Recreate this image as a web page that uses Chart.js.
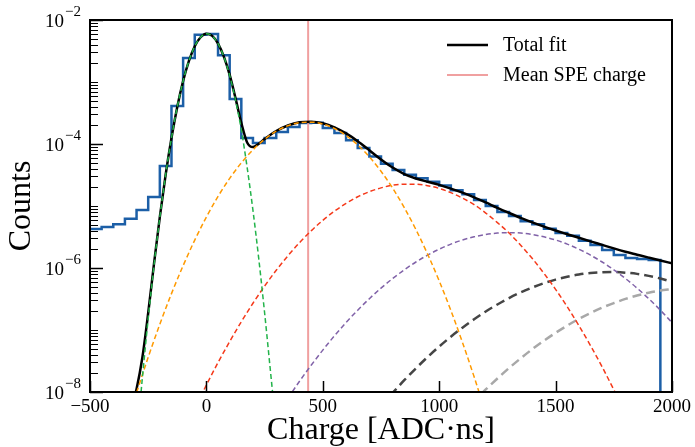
<!DOCTYPE html>
<html>
<head>
<meta charset="utf-8">
<script src="https://cdn.jsdelivr.net/npm/chart.js@4.4.0/dist/chart.umd.min.js"></script>
<style>
  html, body { margin: 0; padding: 0; background: #fff; }
  canvas { display: block; }
</style>
</head>
<body>
<canvas id="spe" width="695" height="447"></canvas>
<script>
// charge histogram, bin left edges (ADC*ns) and normalised counts
var histEdges = [-500, -450, -400, -350, -300, -250, -200, -150, -100, -50,
  0, 50, 100, 150, 200, 250, 300, 350, 400, 450,
  500, 550, 600, 650, 700, 750, 800, 850, 900, 950,
  1000, 1050, 1100, 1150, 1200, 1250, 1300, 1350, 1400, 1450,
  1500, 1550, 1600, 1650, 1700, 1750, 1800, 1850, 1900, 1950, 2000];
var histCounts = [4.25e-6, 4.6e-6, 5.1e-6, 6.2e-6, 8.6e-6, 1.4e-5, 4.4e-5, 4.1e-4, 2.44e-3, 5.8e-3,
  5.95e-3, 2.7e-3, 5.3e-4, 1.25e-4, 1.04e-4, 1.25e-4, 1.56e-4, 1.88e-4, 2.18e-4, 2.2e-4,
  1.81e-4, 1.5e-4, 1.15e-4, 8.6e-5, 6.3e-5, 4.8e-5, 3.8e-5, 3.2e-5, 2.8e-5, 2.45e-5,
  2.15e-5, 1.8e-5, 1.55e-5, 1.25e-5, 1.0e-5, 8.0e-6, 6.9e-6, 5.7e-6, 5.1e-6, 4.3e-6,
  3.67e-6, 3.3e-6, 2.75e-6, 2.35e-6, 1.95e-6, 1.62e-6, 1.45e-6, 1.4e-6, 1.35e-6, 0];

// total fit
var fitX = [-320, -310, -300, -275, -250, -225, -200, -175, -150, -125, -100, -75, -50, -25, 0, 25, 50, 75, 100, 125, 150, 175, 200, 225, 250,
  300, 350, 400, 450, 500, 550, 600, 650, 700, 750, 800, 850, 900, 950, 1000, 1050, 1100, 1150, 1200, 1250,
  1300, 1350, 1400, 1450, 1500, 1550, 1600, 1650, 1700, 1750, 1800, 1850, 1900, 1950, 2000];
var fitY = [5.8e-9, 8.0e-9, 1.12e-8, 3.6e-8, 1.88e-7, 1.18e-6, 6.7e-6, 3.21e-5, 1.25e-4, 4.0e-4, 1.04e-3, 2.19e-3, 3.77e-3, 5.27e-3, 5.99e-3, 5.54e-3, 4.17e-3, 2.57e-3, 1.3e-3, 5.5e-4, 2.19e-4, 1.06e-4, 8.93e-5, 1.01e-4, 1.2e-4,
  1.62e-4, 1.99e-4, 2.24e-4, 2.29e-4, 2.16e-4, 1.86e-4, 1.48e-4, 1.11e-4, 7.93e-5, 5.64e-5, 4.17e-5, 3.28e-5, 2.78e-5, 2.46e-5, 2.19e-5, 1.91e-5, 1.64e-5, 1.38e-5, 1.14e-5, 9.34e-6,
  7.73e-6, 6.43e-6, 5.43e-6, 4.64e-6, 4.02e-6, 3.51e-6, 3.07e-6, 2.69e-6, 2.36e-6, 2.07e-6, 1.83e-6, 1.64e-6, 1.47e-6, 1.32e-6, 1.19e-6];

// pedestal
var pedX = [-290, -275, -250, -225, -200, -175, -150, -125, -100, -75, -50, -25, 0, 25, 50, 75, 100, 125, 150, 175, 200, 225, 250, 275, 290];
var pedY = [4.1e-9, 1.7e-8, 1.52e-7, 1.11e-6, 6.6e-6, 3.19e-5, 1.25e-4, 4.0e-4, 1.04e-3, 2.19e-3, 3.77e-3, 5.27e-3, 5.98e-3, 5.53e-3, 4.16e-3, 2.55e-3, 1.27e-3, 5.1e-4, 1.69e-4, 4.2e-5, 8.5e-6, 1.4e-6, 1.9e-7, 2.2e-8, 6e-9];

// 1 PE
var pe1X = [-310, -300, -250, -200, -150, -100, -50, 0, 50, 100, 150, 200, 250, 300, 350, 400, 450, 500, 550, 600, 650, 700, 750, 800, 850, 900, 950, 1000, 1050, 1100, 1150, 1175];
var pe1Y = [7.4e-9, 9.7e-9, 3.64e-8, 1.24e-7, 3.86e-7, 1.09e-6, 2.82e-6, 6.65e-6, 1.43e-5, 2.79e-5, 4.96e-5, 8.05e-5, 1.19e-4, 1.61e-4, 1.97e-4, 2.21e-4, 2.25e-4, 2.10e-4, 1.78e-4, 1.37e-4, 9.7e-5, 6.2e-5, 3.63e-5, 1.94e-5, 9.4e-6, 4.16e-6, 1.68e-6, 6.2e-7, 2.07e-7, 6.3e-8, 1.76e-8, 8.95e-9];

// 2 PE
var pe2X = [-25, 0, 50, 100, 150, 200, 250, 300, 350, 400, 450, 500, 550, 600, 650, 700, 750, 800, 850, 900, 950, 1000, 1050, 1100, 1150, 1200, 1250, 1300, 1350, 1400, 1450, 1500, 1550, 1600, 1650, 1700, 1765];
var pe2Y = [8.4e-9, 1.30e-8, 2.99e-8, 6.5e-8, 1.36e-7, 2.70e-7, 5.1e-7, 9.2e-7, 1.57e-6, 2.56e-6, 3.97e-6, 5.87e-6, 8.24e-6, 1.10e-5, 1.41e-5, 1.70e-5, 1.96e-5, 2.16e-5, 2.25e-5, 2.24e-5, 2.13e-5, 1.92e-5, 1.64e-5, 1.34e-5, 1.05e-5, 7.7e-6, 5.4e-6, 3.66e-6, 2.33e-6, 1.42e-6, 8.2e-7, 4.52e-7, 2.37e-7, 1.18e-7, 5.6e-8, 2.54e-8, 8.4e-9];

// 3 PE
var pe3X = [350, 400, 450, 500, 550, 600, 650, 700, 750, 800, 850, 900, 950, 1000, 1050, 1100, 1150, 1200, 1250, 1300, 1350, 1400, 1450, 1500, 1550, 1600, 1650, 1700, 1750, 1800, 1850, 1900, 1950, 2000];
var pe3Y = [7.9e-9, 1.49e-8, 2.70e-8, 4.74e-8, 8.05e-8, 1.32e-7, 2.09e-7, 3.20e-7, 4.73e-7, 6.76e-7, 9.35e-7, 1.25e-6, 1.61e-6, 2.01e-6, 2.43e-6, 2.83e-6, 3.18e-6, 3.47e-6, 3.66e-6, 3.72e-6, 3.66e-6, 3.47e-6, 3.18e-6, 2.83e-6, 2.43e-6, 2.01e-6, 1.61e-6, 1.25e-6, 9.35e-7, 6.76e-7, 4.73e-7, 3.20e-7, 2.09e-7, 1.32e-7];

// 4 PE
var pe4X = [790, 850, 900, 950, 1000, 1050, 1100, 1150, 1200, 1250, 1300, 1350, 1400, 1450, 1500, 1550, 1600, 1650, 1700, 1750, 1800, 1850, 1900, 1950, 2000];
var pe4Y = [8.8e-9, 1.55e-8, 2.41e-8, 3.66e-8, 5.40e-8, 7.8e-8, 1.09e-7, 1.49e-7, 1.99e-7, 2.58e-7, 3.27e-7, 4.04e-7, 4.85e-7, 5.69e-7, 6.5e-7, 7.23e-7, 7.85e-7, 8.3e-7, 8.55e-7, 8.6e-7, 8.41e-7, 8.04e-7, 7.46e-7, 6.78e-7, 5.98e-7];

// 5 PE
var pe5X = [1180, 1200, 1250, 1300, 1350, 1400, 1450, 1500, 1550, 1600, 1650, 1700, 1750, 1800, 1850, 1900, 1950, 2000];
var pe5Y = [9.2e-9, 1.10e-8, 1.65e-8, 2.43e-8, 3.49e-8, 4.91e-8, 6.73e-8, 9.0e-8, 1.18e-7, 1.51e-7, 1.88e-7, 2.29e-7, 2.72e-7, 3.17e-7, 3.60e-7, 4.0e-7, 4.33e-7, 4.58e-7];

var meanSpeCharge = 437;

var xTicks = [-500, 0, 500, 1000, 1500, 2000];
var yMajor = [1e-8, 1e-6, 1e-4, 1e-2];
var yExp = ['\u22128', '\u22126', '\u22124', '\u22122'];

var FONT = '"Liberation Serif", "DejaVu Serif", serif';

function pts(xs, ys) {
	return xs.map(function(x, i){ return {x: x, y: ys[i]}; });
}

function histPoints() {
	var out = [];
	for (var i = 0; i < histCounts.length; i++) {
		out.push({x: histEdges[i], y: histCounts[i] > 0 ? histCounts[i] : 1e-12});
	}
	out.push({x: histEdges[histEdges.length - 1], y: out[out.length - 1].y});
	return out;
}

function dashed(label, xs, ys, color, width, dash) {
	return {
		label: label, data: pts(xs, ys), borderColor: color, borderWidth: width,
		borderDash: dash, pointRadius: 0, fill: false, cubicInterpolationMode: 'monotone'
	};
}

// ticks inside, frame, y labels with superscripts, legend
var framePlugin = {
	id: 'frame',
	afterDraw: function(chart) {
		var ctx = chart.ctx, a = chart.chartArea;
		var x = chart.scales.x, y = chart.scales.y;
		ctx.save();
		ctx.strokeStyle = '#000';
		ctx.fillStyle = '#000';

		ctx.lineWidth = 1.5;
		xTicks.forEach(function(v){
			var px = Math.round(x.getPixelForValue(v)) + 0.5;
			ctx.beginPath(); ctx.moveTo(px, a.bottom); ctx.lineTo(px, a.bottom - 11); ctx.stroke();
		});

		for (var k = -8; k < -2; k++) {
			for (var m = 1; m < 10; m++) {
				var v = m * Math.pow(10, k);
				if (m == 1 && k % 2 == 0) continue;
				var py = Math.round(y.getPixelForValue(v)) + 0.5;
				ctx.lineWidth = 1;
				ctx.beginPath(); ctx.moveTo(a.left, py); ctx.lineTo(a.left + 8, py); ctx.stroke();
			}
		}
		ctx.lineWidth = 1.5;
		yMajor.forEach(function(v){
			var py = Math.round(y.getPixelForValue(v)) + 0.5;
			ctx.beginPath(); ctx.moveTo(a.left, py); ctx.lineTo(a.left + 13, py); ctx.stroke();
		});

		ctx.lineWidth = 2;
		ctx.strokeRect(a.left, a.top, a.right - a.left, a.bottom - a.top);

		// y tick labels 10^-n
		yMajor.forEach(function(v, i){
			var py = y.getPixelForValue(v);
			ctx.textBaseline = 'alphabetic';
			ctx.font = '19px ' + FONT;
			ctx.textAlign = 'right';
			ctx.fillText('10', a.left - 26, py + 7);
			ctx.font = '15px ' + FONT;
			ctx.textAlign = 'left';
			ctx.fillText(yExp[i], a.left - 25, py - 4);
		});

		// legend
		var items = chart.data.datasets.filter(function(d){ return d.inLegend; });
		items.forEach(function(d, i){
			var ly = a.top + 25 + i * 30;
			ctx.strokeStyle = d.borderColor;
			ctx.lineWidth = d.borderWidth;
			ctx.beginPath(); ctx.moveTo(447, ly); ctx.lineTo(488, ly); ctx.stroke();
			ctx.font = '20px ' + FONT;
			ctx.textAlign = 'left';
			ctx.textBaseline = 'middle';
			ctx.fillStyle = '#000';
			ctx.fillText(d.label, 503, ly + 1);
		});
		ctx.restore();
	}
};

new Chart(document.getElementById('spe'), {
	type: 'line',
	data: {
		datasets: [
			dashed('Pedestal', pedX, pedY, '#22b34a', 1.5, [5, 3]),
			dashed('1 PE', pe1X, pe1Y, '#ff9a00', 1.5, [5, 3]),
			dashed('2 PE', pe2X, pe2Y, '#f5391a', 1.5, [5, 3]),
			dashed('3 PE', pe3X, pe3Y, '#8062a8', 1.5, [5, 3]),
			dashed('4 PE', pe4X, pe4Y, '#454545', 2.5, [9, 5]),
			dashed('5 PE', pe5X, pe5Y, '#a8a8a8', 2.5, [9, 5]),
			{
				label: 'Total fit', inLegend: true, data: pts(fitX, fitY),
				borderColor: '#000', borderWidth: 2.5, pointRadius: 0, fill: false,
				cubicInterpolationMode: 'monotone'
			},
			{
				label: 'Mean SPE charge', inLegend: true,
				data: [{x: meanSpeCharge, y: 1e-8}, {x: meanSpeCharge, y: 1e-2}],
				borderColor: '#f0a0a0', borderWidth: 2, pointRadius: 0, fill: false
			},
			{
				label: 'Data', data: histPoints(), stepped: true,
				borderColor: '#1c5fa7', borderWidth: 2.5, pointRadius: 0, fill: false
			}
		]
	},
	options: {
		responsive: false,
		animation: false,
		devicePixelRatio: 1,
		layout: {padding: {top: 20, right: 23, left: 0, bottom: 0}},
		plugins: {legend: {display: false}, tooltip: {enabled: false}},
		scales: {
			x: {
				type: 'linear', min: -500, max: 2000,
				grid: {display: false, drawTicks: false},
				border: {display: false},
				afterBuildTicks: function(s){ s.ticks = xTicks.map(function(v){ return {value: v}; }); },
				afterFit: function(s){ s.height = 55; },
				ticks: {
					color: '#000', padding: 4, maxRotation: 0,
					font: {family: FONT, size: 19},
					callback: function(v){ return v < 0 ? '\u2212' + Math.abs(v) : String(v); }
				},
				title: {
					display: true, text: 'Charge [ADC\u00b7ns]', color: '#000',
					font: {family: FONT, size: 32, lineHeight: 1}, padding: {top: 0, bottom: 0}
				}
			},
			y: {
				type: 'logarithmic', min: 1e-8, max: 1e-2,
				grid: {display: false, drawTicks: false},
				border: {display: false},
				ticks: {display: false},
				afterFit: function(s){ s.width = 90; },
				title: {
					display: true, text: 'Counts', color: '#000',
					font: {family: FONT, size: 32, lineHeight: 1}, padding: {top: 6, bottom: 0}
				}
			}
		}
	},
	plugins: [framePlugin]
});
</script>
</body>
</html>
